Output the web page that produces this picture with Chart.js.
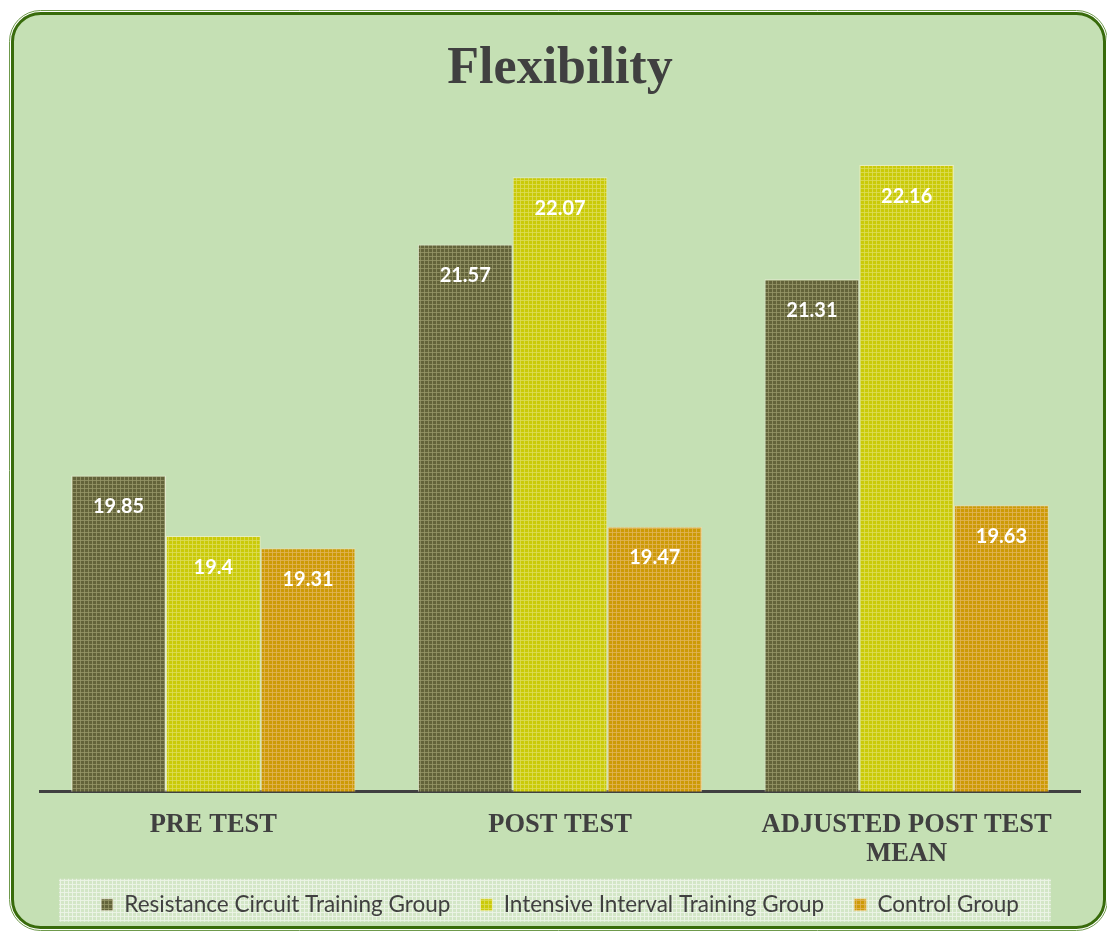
<!DOCTYPE html>
<html>
<head>
<meta charset="utf-8">
<script src="https://cdn.jsdelivr.net/npm/chart.js@4.4.1/dist/chart.umd.min.js"></script>
<style>
  html, body { margin: 0; padding: 0; background: #ffffff; }
  #wrap { width: 1107px; height: 931px; }
</style>
</head>
<body>
<div id="wrap"><canvas id="flexChart" width="1107" height="931"></canvas></div>
<script>
const categories = ['PRE TEST', 'POST TEST', ['ADJUSTED POST TEST', 'MEAN']];
const groupNames = ['Resistance Circuit Training Group', 'Intensive Interval Training Group', 'Control Group'];
const resistanceValues = [19.85, 21.57, 21.31];
const intervalValues = [19.4, 22.07, 22.16];
const controlValues = [19.31, 19.47, 19.63];
const yMin = 17.5;
const yMax = 22.5;

// small grid texture like the office "weave" fill
function makePattern(base, light) {
    const c = document.createElement('canvas');
    c.width = 4; c.height = 4;
    const g = c.getContext('2d');
    g.fillStyle = base;
    g.fillRect(0, 0, 4, 4);
    g.fillStyle = light;
    g.fillRect(0, 0, 4, 1);
    g.fillRect(0, 0, 1, 4);
    return g.createPattern(c, 'repeat');
}

const darkFill = makePattern('#63633a', 'rgba(150,150,105,0.8)');
const yellowFill = makePattern('#caca08', 'rgba(220,220,90,0.8)');
const orangeFill = makePattern('#cd9a06', 'rgba(225,180,90,0.8)');
const legendFill = makePattern('#d3e6c6', 'rgba(236,244,231,0.9)');

const framePlugin = {
    id: 'frame',
    beforeDraw(chart) {
        const ctx = chart.ctx;
        ctx.save();
        ctx.fillStyle = '#ffffff';
        ctx.fillRect(0, 0, chart.width, chart.height);
        // outer thin line
        ctx.beginPath();
        ctx.roundRect(9.5, 10.5, 1098, 920, 31);
        ctx.strokeStyle = '#6f9a4c';
        ctx.lineWidth = 1;
        ctx.stroke();
        // main panel
        ctx.beginPath();
        ctx.roundRect(12.5, 13.5, 1092, 914, 28);
        ctx.fillStyle = '#c5e0b4';
        ctx.fill();
        ctx.strokeStyle = '#386b0b';
        ctx.lineWidth = 3;
        ctx.stroke();
        // legend background strip
        const boxes = chart.legend && chart.legend.legendHitBoxes;
        if (boxes && boxes.length) {
            const first = boxes[0];
            const last = boxes[boxes.length - 1];
            const mid = first.top + first.height / 2;
            ctx.fillStyle = legendFill;
            ctx.fillRect(first.left - 42, mid - 26, (last.left + last.width + 32) - (first.left - 42), 43);
        }
        ctx.restore();
    }
};

const valueLabels = {
    id: 'valueLabels',
    afterDatasetsDraw(chart) {
        const ctx = chart.ctx;
        ctx.save();
        ctx.font = 'bold 20px Lato, sans-serif';
        ctx.fillStyle = '#ffffff';
        ctx.textAlign = 'center';
        ctx.textBaseline = 'middle';
        chart.data.datasets.forEach((ds, i) => {
            chart.getDatasetMeta(i).data.forEach((bar, j) => {
                ctx.fillText(String(ds.data[j]), bar.x, bar.y + 31);
            });
        });
        ctx.restore();
    }
};

const ctx = document.getElementById('flexChart').getContext('2d');

new Chart(ctx, {
    type: 'bar',
    data: {
        labels: categories,
        datasets: [{
            label: groupNames[0],
            data: resistanceValues,
            backgroundColor: darkFill,
            borderColor: 'rgba(235,235,215,0.8)',
            borderWidth: 1
        }, {
            label: groupNames[1],
            data: intervalValues,
            backgroundColor: yellowFill,
            borderColor: 'rgba(240,240,190,0.8)',
            borderWidth: 1
        }, {
            label: groupNames[2],
            data: controlValues,
            backgroundColor: orangeFill,
            borderColor: 'rgba(240,220,170,0.8)',
            borderWidth: 1
        }]
    },
    options: {
        responsive: false,
        animation: false,
        layout: {
            padding: { left: 40, right: 27, top: 0, bottom: 5 }
        },
        datasets: {
            bar: {
                barPercentage: 1.0,
                categoryPercentage: 0.82
            }
        },
        plugins: {
            title: {
                display: true,
                text: 'Flexibility',
                color: '#404040',
                font: { family: '"Liberation Serif", "Times New Roman", serif', size: 52, weight: 'bold', lineHeight: 1.2 },
                padding: { top: 38, bottom: 19 }
            },
            legend: {
                position: 'bottom',
                labels: {
                    color: '#404040',
                    boxWidth: 12,
                    boxHeight: 12,
                    padding: 30,
                    font: { family: 'Lato, sans-serif', size: 22.5 }
                }
            },
            tooltip: { enabled: false }
        },
        scales: {
            y: {
                display: false,
                min: yMin,
                max: yMax
            },
            x: {
                grid: { display: false },
                border: { display: true, color: '#404040', width: 3 },
                ticks: {
                    color: '#404040',
                    padding: 11,
                    maxRotation: 0,
                    autoSkip: false,
                    font: { family: '"Liberation Serif", "Times New Roman", serif', size: 26.5, weight: 'bold', lineHeight: 1.1 }
                },
                afterFit(scale) {
                    scale.height = 72;
                }
            }
        }
    },
    plugins: [framePlugin, valueLabels]
});
</script>
</body>
</html>
